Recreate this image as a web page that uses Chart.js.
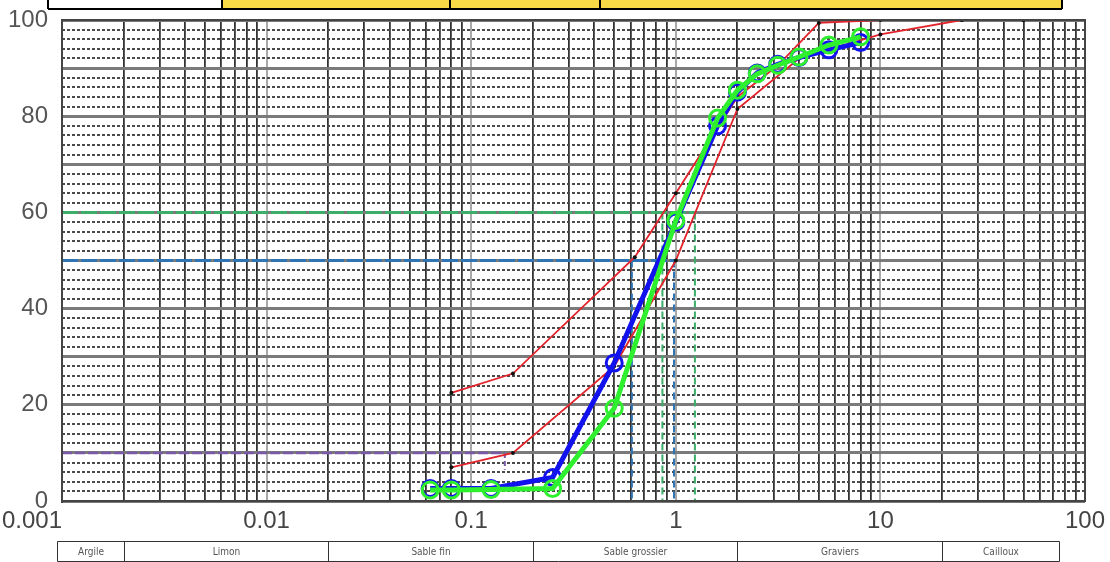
<!DOCTYPE html>
<html lang="fr">
<head>
  <meta charset="UTF-8">
  <title>Courbe granulométrique</title>
  <script src="https://cdn.jsdelivr.net/npm/chart.js"></script>
  <style>
    html, body { margin: 0; padding: 0; background: #fff; }
    #wrap { position: relative; width: 1110px; height: 562px; }
  </style>
</head>
<body>
  <div id="wrap"><canvas id="granulo" width="1110" height="562"></canvas></div>

  <script>
    // tamis (mm) et passants cumulés (%)
    const tamis = [0.063, 0.08, 0.125, 0.25, 0.5, 1, 1.6, 2, 2.5, 3.15, 4, 5.6, 8];
    const passantBleu = [2.6, 2.6, 2.6, 4.9, 28.7, 58, 78, 85, 89, 90.8, 92.2, 93.8, 95.3];
    const passantVert = [2.3, 2.3, 2.4, 2.6, 19.3, 58.3, 79.6, 85.4, 88.8, 90.6, 92.3, 94.8, 96.5];

    // fuseau (courbes rouges)
    const fuseauHautX = [0.08, 0.16, 0.63, 1, 2, 3.15, 5, 10, 25, 50];
    const fuseauHautY = [22.5, 26.5, 50.7, 64, 84, 90.5, 99.4, 100, 100, 100];
    const fuseauBasX = [0.08, 0.16, 0.5, 1, 2, 4, 10, 25, 50];
    const fuseauBasY = [7, 10, 28, 50, 81.5, 92, 97, 100, 100];

    // lignes D10 / D50 / D60
    const niveaux = [10, 50, 60];
    const dFin = [0.146, 0.61, 0.86];
    const dGros = [null, 0.98, 1.24];
    const couleursNiveaux = ['#7a5aa8', '#2f75b5', '#3cae6a'];

    // axes
    const decades = [0.001, 0.01, 0.1, 1, 10, 100];
    const xLabels = ['0.001', '0.01', '0.1', '1', '10', '100'];
    const yLabels = [0, 20, 40, 60, 80, 100];

    // classes granulaires
    const classes = ['Argile', 'Limon', 'Sable fin', 'Sable grossier', 'Graviers', 'Cailloux'];
    const limitesClasses = [0.00095, 0.002, 0.02, 0.2, 2, 20, 75];

    const pts = (xs, ys) => xs.map((x, i) => ({ x: x, y: ys[i] }));

    const xTicks = [];
    for (let d = 0; d < decades.length - 1; d++) {
      for (let k = 1; k < 10; k++) xTicks.push(decades[d] * k);
    }
    xTicks.push(decades[decades.length - 1]);
    const estDecade = v => decades.findIndex(d => Math.abs(v - d) / d < 1e-6);

    const guides = [];
    niveaux.forEach((n, i) => {
      const c = couleursNiveaux[i];
      if (dGros[i] === null) {
        guides.push({ data: [{ x: 0.001, y: n }, { x: dFin[i], y: n }], borderColor: c, borderWidth: 2.5, borderDash: [10, 3] });
        guides.push({ data: [{ x: dFin[i], y: n }, { x: dFin[i], y: n - 3.5 }], borderColor: c, borderWidth: 2, borderDash: [5, 3] });
      } else {
        guides.push({ data: [{ x: 0.001, y: n }, { x: dGros[i], y: n }], borderColor: c, borderWidth: 3, borderDash: [16, 3] });
        guides.push({ data: [{ x: dGros[i], y: n }, { x: dGros[i], y: 0 }], borderColor: c, borderWidth: 2, borderDash: [7, 4] });
        guides.push({ data: [{ x: dFin[i], y: n }, { x: dFin[i], y: 0 }], borderColor: c, borderWidth: 2, borderDash: [7, 4] });
      }
    });
    guides.forEach(g => { g.showLine = true; g.pointRadius = 0; g.order = 4; });

    const sansMarge = s => { s.paddingTop = 0; s.paddingBottom = 0; s.paddingLeft = 0; s.paddingRight = 0; };

    const cadre = {
      id: 'cadre',
      afterDraw(chart) {
        const ctx = chart.ctx, a = chart.chartArea, sx = chart.scales.x;
        ctx.save();
        // bandeau du haut
        ctx.fillStyle = '#f8d946';
        ctx.fillRect(222, 0, 840, 9);
        ctx.strokeStyle = '#000';
        ctx.lineWidth = 2;
        ctx.beginPath();
        ctx.moveTo(48, 9); ctx.lineTo(1062, 9);
        [48, 222, 450, 600, 1062].forEach(x => { ctx.moveTo(x, 0); ctx.lineTo(x, 9); });
        ctx.stroke();

        // cadre de la zone de tracé
        ctx.strokeStyle = '#444';
        ctx.lineWidth = 2;
        ctx.strokeRect(a.left, a.top, a.right - a.left, a.bottom - a.top);

        // tableau des classes
        const y0 = 541.5, y1 = 561.5;
        const xs = limitesClasses.map(v => Math.round(sx.getPixelForValue(v)) + 0.5);
        ctx.strokeStyle = '#333';
        ctx.lineWidth = 1;
        ctx.beginPath();
        ctx.moveTo(xs[0], y0); ctx.lineTo(xs[xs.length - 1], y0);
        ctx.moveTo(xs[0], y1); ctx.lineTo(xs[xs.length - 1], y1);
        xs.forEach(x => { ctx.moveTo(x, y0); ctx.lineTo(x, y1); });
        ctx.stroke();
        ctx.fillStyle = '#555';
        ctx.font = '10px "Liberation Sans Narrow", "DejaVu Sans Condensed", Arial, sans-serif';
        ctx.textAlign = 'center';
        ctx.textBaseline = 'middle';
        classes.forEach((c, i) => ctx.fillText(c, (xs[i] + xs[i + 1]) / 2, 552));
        ctx.restore();
      }
    };

    const ctx = document.getElementById('granulo').getContext('2d');
    new Chart(ctx, {
      type: 'scatter',
      data: {
        datasets: [
          {
            label: 'Échantillon 2',
            data: pts(tamis, passantVert),
            showLine: true,
            borderColor: '#2ef02e',
            borderWidth: 5,
            pointRadius: 8,
            pointBorderWidth: 3,
            pointBorderColor: '#2ef02e',
            pointBackgroundColor: 'rgba(0,0,0,0)',
            order: 0
          },
          {
            label: 'Échantillon 1',
            data: pts(tamis, passantBleu),
            showLine: true,
            borderColor: '#1212ee',
            borderWidth: 5,
            pointRadius: 8,
            pointBorderWidth: 3,
            pointBorderColor: '#1212ee',
            pointBackgroundColor: 'rgba(0,0,0,0)',
            order: 1
          },
          {
            label: 'Fuseau haut',
            data: pts(fuseauHautX, fuseauHautY),
            showLine: true,
            borderColor: '#e3232b',
            borderWidth: 1.8,
            pointRadius: 2,
            pointBorderWidth: 0,
            pointBackgroundColor: '#111',
            order: 2
          },
          {
            label: 'Fuseau bas',
            data: pts(fuseauBasX, fuseauBasY),
            showLine: true,
            borderColor: '#e3232b',
            borderWidth: 1.8,
            pointRadius: 2,
            pointBorderWidth: 0,
            pointBackgroundColor: '#111',
            order: 2
          },
          ...guides
        ]
      },
      options: {
        responsive: false,
        animation: false,
        layout: { padding: { top: 20, right: 25, bottom: 23, left: 0 } },
        plugins: { legend: { display: false }, tooltip: { enabled: false } },
        scales: {
          x: {
            type: 'logarithmic',
            min: 0.001,
            max: 100,
            afterBuildTicks: s => { s.ticks = xTicks.map(v => ({ value: v })); },
            afterFit: s => { s.height = 38; sansMarge(s); },
            ticks: {
              autoSkip: false,
              maxRotation: 0,
              padding: 6,
              color: '#444',
              font: { family: 'Arial, "Liberation Sans", sans-serif', size: 24 },
              callback: v => {
                const i = estDecade(v);
                if (i < 0) return '';
                return i === 0 ? xLabels[i] + ' '.repeat(9) : xLabels[i];
              }
            },
            grid: {
              drawTicks: false,
              color: c => estDecade(c.tick.value) >= 0 ? '#a8a8a8' : '#333',
              lineWidth: c => estDecade(c.tick.value) >= 0 ? 2 : 1.8
            },
            border: { color: '#444', width: 2 }
          },
          y: {
            min: 0,
            max: 100,
            afterFit: s => { s.width = 62; sansMarge(s); },
            ticks: {
              stepSize: 10,
              padding: 14,
              color: '#555',
              font: { family: 'Arial, "Liberation Sans", sans-serif', size: 24 },
              callback: v => yLabels.includes(v) ? v : ''
            },
            grid: { drawTicks: false, color: '#7a7a7a', lineWidth: 3 },
            border: { color: '#444', width: 2 }
          },
          y2: {
            position: 'left',
            min: 0,
            max: 100,
            afterFit: s => { s.width = 0; sansMarge(s); },
            ticks: { display: false, stepSize: 2 },
            grid: {
              drawTicks: false,
              color: c => c.tick.value % 10 === 0 ? 'rgba(0,0,0,0)' : '#4a4a4a',
              lineWidth: 2
            },
            border: { display: false, dash: [3, 2] }
          }
        }
      },
      plugins: [cadre]
    });
  </script>
</body>
</html>
